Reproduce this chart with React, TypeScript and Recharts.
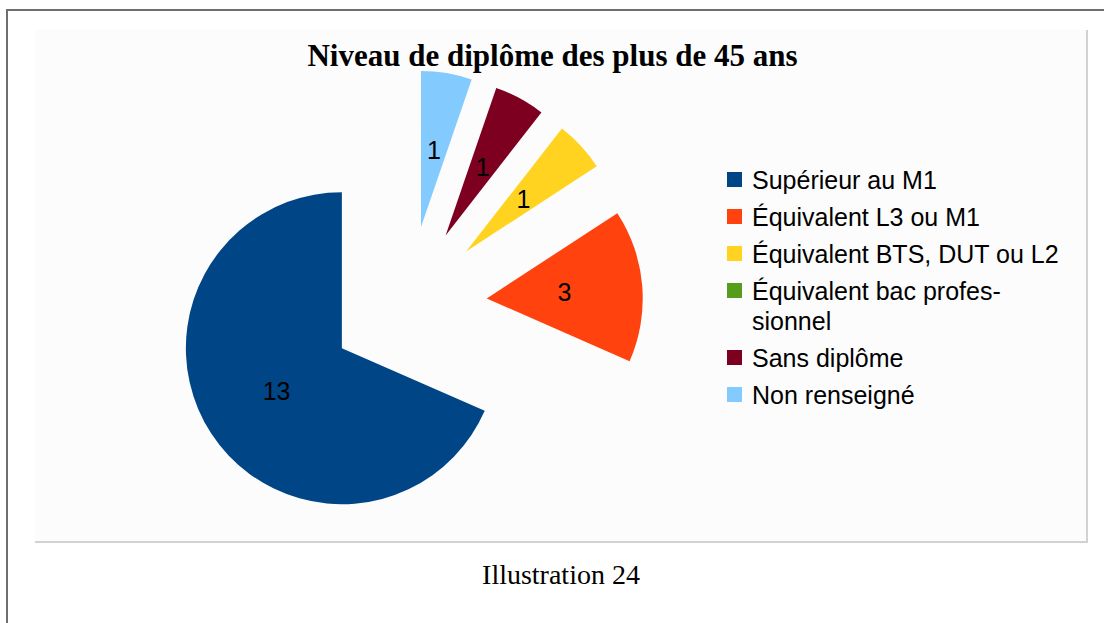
import { Legend, Pie, PieChart, Sector } from "recharts";

const categories = [
  "Supérieur au M1",
  "Équivalent L3 ou M1",
  "Équivalent BTS, DUT ou L2",
  "Équivalent bac profes-\nsionnel",
  "Sans diplôme",
  "Non renseigné",
];
const counts = [13, 3, 1, 0, 1, 1];
const colors = ["#004586", "#ff420e", "#ffd320", "#579d1c", "#7e0021", "#83caff"];

const data = categories.map((name, i) => ({ name, value: counts[i], fill: colors[i] }));

const RAD = Math.PI / 180;
const EXPLODE = 79;

// every slice is pulled out along its mid angle
function ExplodedSector(props: any) {
  const { cx, cy, midAngle } = props;
  const dx = EXPLODE * Math.cos(-midAngle * RAD);
  const dy = EXPLODE * Math.sin(-midAngle * RAD);
  return <Sector {...props} cx={cx + dx} cy={cy + dy} stroke="none" />;
}

function SliceLabel(props: any) {
  const { cx, cy, midAngle, outerRadius, value } = props;
  if (!value) return null;
  const r = EXPLODE + outerRadius * 0.5;
  const x = cx + r * Math.cos(-midAngle * RAD);
  const y = cy + r * Math.sin(-midAngle * RAD);
  return (
    <text
      x={x}
      y={y}
      textAnchor="middle"
      dominantBaseline="central"
      fill="#000"
      fontSize={25}
      fontFamily="'Liberation Sans', Arial, sans-serif"
    >
      {value}
    </text>
  );
}

function LegendList() {
  return (
    <div style={{ fontFamily: "'Liberation Sans', Arial, sans-serif", fontSize: 25, color: "#000" }}>
      {categories.map((name, i) => (
        <div key={name} style={{ display: "flex", alignItems: "flex-start", marginBottom: 7 }}>
          <span
            style={{
              width: 15,
              height: 15,
              marginTop: 7,
              marginRight: 10,
              background: colors[i],
              flexShrink: 0,
            }}
          />
          <span style={{ whiteSpace: "pre-line", lineHeight: "30px" }}>{name}</span>
        </div>
      ))}
    </div>
  );
}

export default function App() {
  return (
    <div
      style={{
        position: "fixed",
        left: 0,
        top: 0,
        width: 1104,
        height: 623,
        overflow: "hidden",
        background: "#fff",
      }}
    >
      <div
        style={{
          position: "absolute",
          left: 6,
          top: 9,
          width: 1200,
          height: 800,
          border: "2px solid #6f6f6f",
        }}
      />
      <div
        style={{
          position: "absolute",
          left: 35,
          top: 30,
          width: 1051,
          height: 511,
          background: "#fcfcfc",
          borderRight: "2px solid #d2d2d2",
          borderBottom: "2px solid #d2d2d2",
        }}
      >
        <PieChart width={1051} height={511}>
          <Pie
            data={data}
            dataKey="value"
            nameKey="name"
            cx={368}
            cy={270}
            outerRadius={156}
            startAngle={90}
            endAngle={450}
            shape={ExplodedSector}
            inactiveShape={ExplodedSector}
            label={SliceLabel}
            labelLine={false}
            stroke="none"
            isAnimationActive={false}
          />
          <Legend
            layout="vertical"
            align="right"
            verticalAlign="top"
            content={() => <LegendList />}
            wrapperStyle={{ left: 692, top: 135, width: 355 }}
          />
        </PieChart>
        <div
          style={{
            position: "absolute",
            left: 0,
            width: 1035,
            top: 11,
            textAlign: "center",
            fontFamily: "'Liberation Serif', 'Times New Roman', serif",
            fontWeight: "bold",
            fontSize: 31,
            lineHeight: "30px",
            color: "#000",
          }}
        >
          Niveau de diplôme des plus de 45 ans
        </div>
      </div>
      <div
        style={{
          position: "absolute",
          left: 0,
          width: 1122,
          top: 561,
          textAlign: "center",
          fontFamily: "'Liberation Serif', 'Times New Roman', serif",
          fontSize: 28,
          lineHeight: "28px",
          color: "#000",
        }}
      >
        Illustration 24
      </div>
    </div>
  );
}
